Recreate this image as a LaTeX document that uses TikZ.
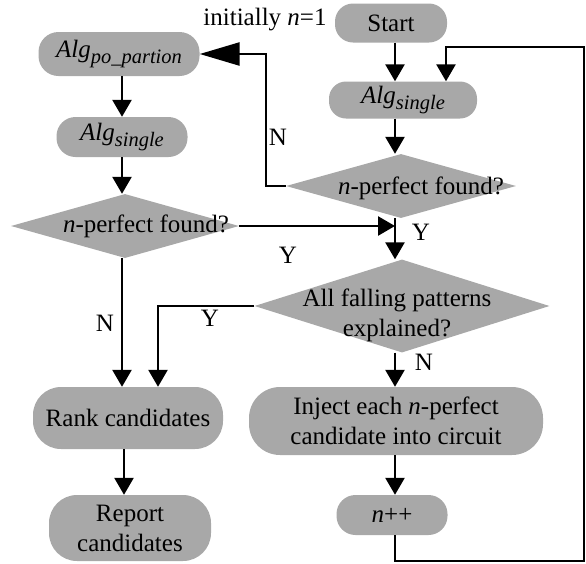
\documentclass[tikz,border=0pt]{standalone}
\usepackage{fontspec}
\setmainfont{Liberation Serif}
\usetikzlibrary{arrows.meta,shapes.geometric}
\definecolor{boxgray}{HTML}{A8A8A8}
\newcommand{\mysub}[1]{\raisebox{-0.25em}{\fontsize{20.5}{21}\selectfont\itshape #1}}
\begin{document}
\begin{tikzpicture}[x=1pt,y=-1pt,
  every node/.style={font=\fontsize{25}{30}\selectfont, inner sep=0pt, text=black},
  term/.style={fill=boxgray, rectangle, align=center},
  dec/.style={fill=boxgray, diamond, inner sep=0pt},
  arr/.style={line width=2.6pt, -{Triangle[length=17pt,width=19pt]}},
  bigarr/.style={line width=2.6pt, -{Triangle[length=40pt,width=23pt]}},
  plain/.style={line width=2.6pt}
]
\useasboundingbox (0,0) rectangle (586,563);

% column coordinates
\coordinate (colR) at (395,0);
\coordinate (colL) at (122,0);
\coordinate (colY) at (158,0);
\coordinate (nT) at (266,54);
\coordinate (loopR) at (584,561);
\coordinate (loopT) at (446,47);

% right column
\node[term, minimum width=112pt, minimum height=39pt, rounded corners=18pt] (start) at (391,23) {Start};
\node[term, minimum width=148pt, minimum height=37pt, rounded corners=17pt] (algS) at (403,100) {\textit{Alg}\mysub{single}};
\node[dec, minimum width=230pt, minimum height=64pt] (d1) at (401,186) {};
\node (d1t) at (421,188) {\textit{n}-perfect found?};
\node[dec, minimum width=295pt, minimum height=93pt] (d2) at (402,306) {};
\node[align=center] (d2t) at (397,315) {All falling patterns\\explained?};
\node[term, minimum width=294pt, minimum height=68pt, rounded corners=31pt] (inject) at (396,421) {Inject each \textit{n}-perfect\\candidate into circuit};
\node[term, minimum width=111pt, minimum height=40pt, rounded corners=19pt] (npp) at (392,515) {\textit{n}++};

% left column
\node[term, minimum width=161pt, minimum height=44pt, rounded corners=20pt] (algPO) at (119,54) {\textit{Alg}\mysub{po\_partion}};
\node[term, minimum width=131pt, minimum height=40pt, rounded corners=19pt] (algL) at (122,137) {\textit{Alg}\mysub{single}};
\node[dec, minimum width=228pt, minimum height=64pt] (dL) at (125,226) {};
\node (dLt) at (146,226) {\textit{n}-perfect found?};
\node[term, minimum width=190pt, minimum height=62pt, rounded corners=28pt] (rank) at (128,418) {Rank candidates};
\node[term, minimum width=162pt, minimum height=66pt, rounded corners=28pt] (report) at (130,528) {Report\\candidates};

% texts
\node (init) at (265,20) {initially \textit{n}=1};
\node (N1) at (278,137) {N};
\node (N2) at (105,323) {N};
\node (N3) at (424,362) {N};
\node (Y1) at (421,232) {Y};
\node (Y2) at (288,255) {Y};
\node (Y3) at (210,318) {Y};

% connectors
\draw[arr] (start.south -| colR) -- (algS.north -| colR);
\draw[arr] (npp.south -| colR) |- (loopR) |- (loopT) -- (algS.north -| loopT);
\draw[arr] (algS.south -| colR) -- (d1.north -| colR);
\draw[bigarr] (d1.west) -| (nT) -- (algPO.east |- nT);
\draw[arr] (d1.south -| colR) -- (d2.north -| colR);
\draw[arr] (dL.east) -- (dL.east -| colR);
\draw[arr] (dL.south -| colL) -- (rank.north -| colL);
\draw[arr] (d2.west) -| (rank.north -| colY);
\draw[arr] (d2.south -| colR) -- (inject.north -| colR);
\draw[arr] (inject.south -| colR) -- (npp.north -| colR);
\draw[arr] (algPO.south -| colL) -- (algL.north -| colL);
\draw[arr] (algL.south -| colL) -- (dL.north -| colL);
\draw[arr] (rank.south -| 124,0) -- (report.north -| 124,0);
\end{tikzpicture}
\end{document}
